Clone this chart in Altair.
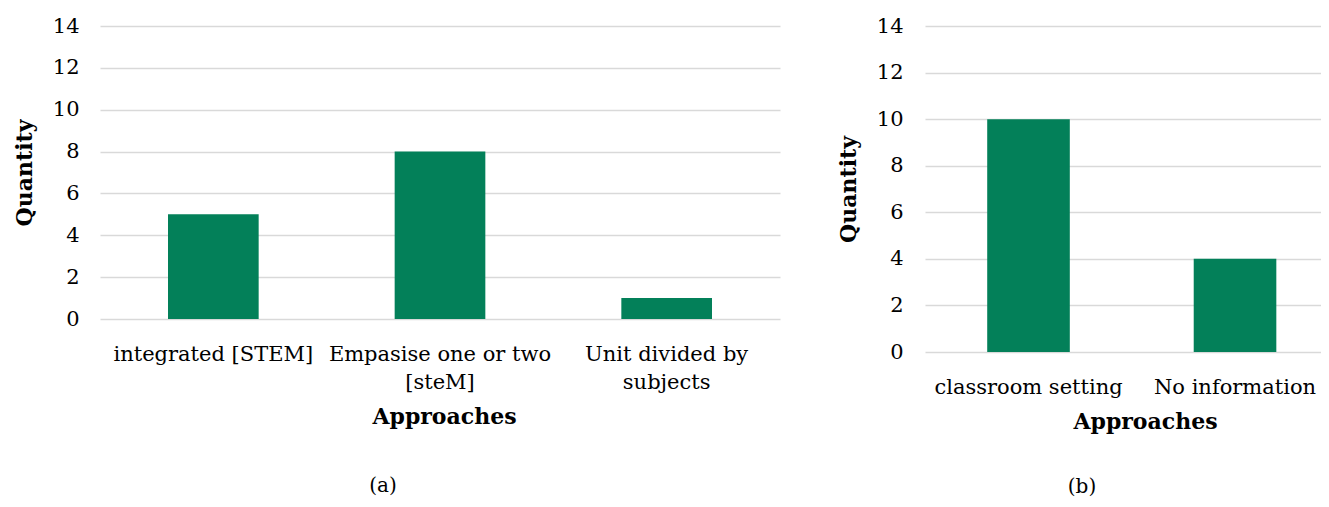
import altair as alt
import pandas as pd

cats_a = ["integrated [STEM]", "Empasise one or two\n[steM]", "Unit divided by\nsubjects"]
vals_a = [5, 8, 1]
cats_b = ["classroom setting", "No information"]
vals_b = [10, 4]
y_ticks = [0, 2, 4, 6, 8, 10, 12, 14]

FONT = "DejaVu Serif"
GREEN = "#038059"
GRID = "#d9d9d9"

df_a = pd.DataFrame({"cat": cats_a, "val": vals_a})
df_b = pd.DataFrame({"cat": cats_b, "val": vals_b})


def panel(df, cats, w, h, cap, cap_dx, cap_off, xscale, title_x, ylab_pad):
    return alt.Chart(df, title=alt.TitleParams(cap, orient="bottom", anchor="middle", frame="group",
                                                 font=FONT, fontSize=20, fontWeight="normal",
                                                 offset=cap_off, dx=cap_dx, color="black")).mark_bar(color=GREEN).encode(
        x=alt.X("cat:N", sort=cats, title="Approaches",
                scale=xscale,
                axis=alt.Axis(labelAngle=0, labelExpr="split(datum.value, '\\n')",
                              labelPadding=24, titlePadding=14, ticks=False, domain=False,
                              labelLineHeight=28, titleX=title_x)),
        y=alt.Y("val:Q", title="Quantity",
                scale=alt.Scale(domain=[0, 14]),
                axis=alt.Axis(values=y_ticks, ticks=False, domain=False,
                              labelPadding=ylab_pad, titlePadding=16,
                              gridColor=GRID, gridWidth=1.5)),
    ).properties(width=w, height=h)


left = panel(df_a, cats_a, 680, 293, "(a)", -57, 49,
             alt.Scale(paddingInner=0.6, paddingOuter=0.3), 344, 21)
right = panel(df_b, cats_b, 396, 326, "(b)", -41, 45,
              alt.Scale(paddingInner=0.6, paddingOuter=0.2588, align=0.582), 220, 22)

chart = alt.hconcat(left, right, spacing=57).properties(
    padding={"left": 5, "top": 7, "right": 0, "bottom": 0}
).configure_view(stroke=None).configure_axis(
    labelFont=FONT, labelFontSize=21, labelColor="black",
    titleFont=FONT, titleFontSize=22, titleFontWeight="bold", titleColor="black",
    labelLimit=400,
)

chart.save("out.html", embed_options={"renderer": "svg", "actions": False})
